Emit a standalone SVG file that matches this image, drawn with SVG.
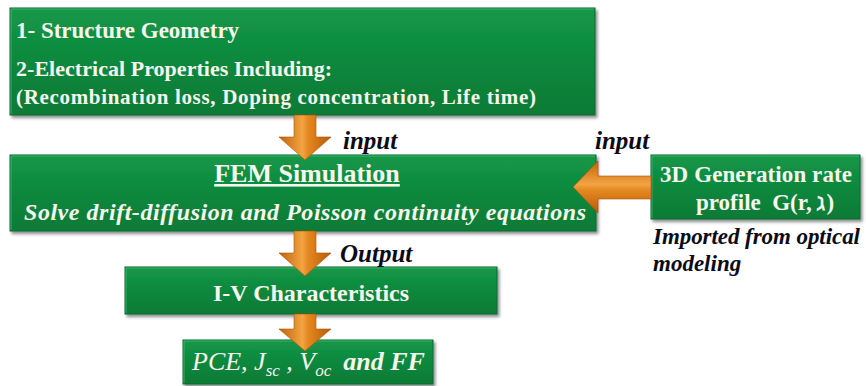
<svg xmlns="http://www.w3.org/2000/svg" width="866" height="386" viewBox="0 0 866 386">
  <defs>
    <linearGradient id="boxFill" x1="0" y1="0" x2="0" y2="1">
      <stop offset="0" stop-color="#159748"/>
      <stop offset="0.5" stop-color="#0d883d"/>
      <stop offset="1" stop-color="#0a7a36"/>
    </linearGradient>
    <linearGradient id="arrowDown" x1="0" y1="0" x2="1" y2="0">
      <stop offset="0" stop-color="#c2620a"/>
      <stop offset="0.45" stop-color="#f3a443"/>
      <stop offset="0.55" stop-color="#e58a22"/>
      <stop offset="1" stop-color="#b85a06"/>
    </linearGradient>
    <linearGradient id="arrowLeft" x1="0" y1="0" x2="0" y2="1">
      <stop offset="0" stop-color="#c2620a"/>
      <stop offset="0.45" stop-color="#f3a443"/>
      <stop offset="0.55" stop-color="#e58a22"/>
      <stop offset="1" stop-color="#b85a06"/>
    </linearGradient>
    <filter id="shadow" x="-5%" y="-10%" width="110%" height="130%">
      <feDropShadow dx="2" dy="2.5" stdDeviation="1.6" flood-color="#000" flood-opacity="0.45"/>
    </filter>
  </defs>
  <style>
    .box { fill: url(#boxFill); stroke: #0a6a30; stroke-width: 1; filter: url(#shadow); }
    .hl { fill: none; stroke: #4fc27a; stroke-width: 1; opacity: 0.7; }
    .in { font-family: "Liberation Serif", "Times New Roman", serif; fill: #f6f6ee; font-weight: bold; }
    .lbl { font-family: "Liberation Serif", "Times New Roman", serif; fill: #0b0b18; font-weight: bold; font-style: italic; }
    .down { fill: url(#arrowDown); stroke: #a9540a; stroke-width: 0.6; }
    .left { fill: url(#arrowLeft); stroke: #a9540a; stroke-width: 0.6; }
  </style>

  <!-- input parameters -->
  <g id="inputs">
    <rect class="box" x="10" y="8" width="585" height="107"/>
    <polyline class="hl" points="11,114 11,9 594,9"/>
    <text class="in" x="16" y="38" font-size="23">1- Structure Geometry</text>
    <text class="in" x="16" y="76" font-size="22" textLength="316">2-Electrical Properties Including:</text>
    <text class="in" x="16" y="104" font-size="21" textLength="520">(Recombination loss, Doping concentration, Life time)</text>
  </g>

  <!-- FEM solver -->
  <g id="fem">
    <rect class="box" x="10" y="155" width="586" height="76"/>
    <polyline class="hl" points="11,230 11,156 595,156"/>
    <text class="in" x="307" y="182" font-size="26" text-anchor="middle" text-decoration="underline">FEM Simulation</text>
    <text class="in" x="24" y="220" font-size="24" font-style="italic" textLength="562">Solve drift-diffusion and Poisson continuity equations</text>
  </g>

  <!-- optical generation profile -->
  <g id="generation">
    <rect class="box" x="651" y="155" width="209" height="64"/>
    <polyline class="hl" points="652,218 652,156 859,156"/>
    <text class="in" x="660" y="182" font-size="23" textLength="192">3D Generation rate</text>
    <text class="in" x="696" y="210" font-size="23" xml:space="preserve">profile  G(r, ℷ)</text>
  </g>

  <!-- I-V curve -->
  <g id="iv">
    <rect class="box" x="125" y="267" width="372" height="47"/>
    <polyline class="hl" points="126,313 126,268 496,268"/>
    <text class="in" x="311" y="301" font-size="24" text-anchor="middle">I-V Characteristics</text>
  </g>

  <!-- figures of merit -->
  <g id="metrics">
    <rect class="box" x="183" y="340" width="250" height="44"/>
    <polyline class="hl" points="184,383 184,341 432,341"/>
    <text class="in" y="370" font-size="26" font-style="italic"><tspan x="192" font-weight="normal">PCE, J</tspan><tspan font-size="17" dy="6" font-weight="normal">sc</tspan><tspan dy="-6" font-weight="normal"> , V</tspan><tspan font-size="17" dy="6" font-weight="normal">oc</tspan><tspan dy="-6" dx="12">and FF</tspan></text>
  </g>

  <!-- connectors -->
  <g id="connectors">
    <polygon class="down" points="294,115 316,115 316,137 331,137 305,160 279,137 294,137"/>
    <polygon class="down" points="294,231 316,231 316,253 331,253 305,276 279,253 294,253"/>
    <polygon class="down" points="294,314 316,314 316,329 331,329 305,351 279,329 294,329"/>
    <polygon class="left" points="651,176 598,176 598,161 573,187 598,213 598,199 651,199"/>
  </g>

  <!-- connector labels -->
  <g id="labels">
    <text class="lbl" x="343" y="149" font-size="25">input</text>
    <text class="lbl" x="595" y="149" font-size="25">input</text>
    <text class="lbl" x="340" y="262" font-size="25">Output</text>
    <text class="lbl" x="653" y="244" font-size="23" textLength="207">Imported from optical</text>
    <text class="lbl" x="653" y="271" font-size="23">modeling</text>
  </g>
</svg>
